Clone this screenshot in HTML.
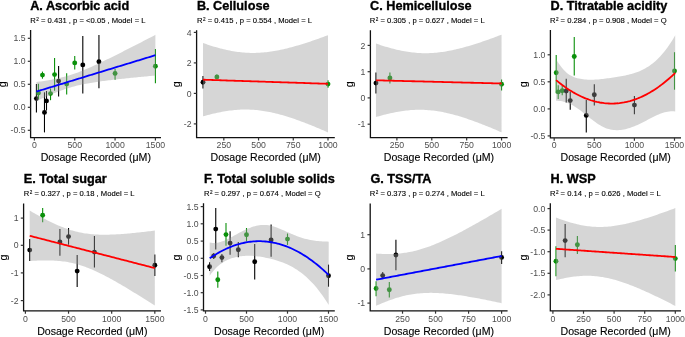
<!DOCTYPE html>
<html><head><meta charset="utf-8"><style>
html,body{margin:0;padding:0;background:#fff;}
body{width:685px;height:337px;overflow:hidden;}
svg{display:block;will-change:transform;}
text{font-family:"Liberation Sans", sans-serif;}
.tt{font-size:12.7px;font-weight:bold;fill:#000;stroke:#000;stroke-width:0.35px;}
.st{font-size:7.65px;fill:#000;stroke:#000;stroke-width:0.12px;}
.tk{font-size:8.7px;fill:#4d4d4d;}
.xl{font-size:10.6px;fill:#000;stroke:#000;stroke-width:0.12px;}
</style></head><body>
<svg width="685" height="337" viewBox="0 0 685 337">
<rect width="685" height="337" fill="#fff"/>
<line x1="36.42" y1="84.1" x2="36.42" y2="112.4" stroke="#000000" stroke-width="1.1"/>
<circle cx="36.42" cy="98.6" r="2.45" fill="#000000"/>
<line x1="38.43" y1="83.8" x2="38.43" y2="99" stroke="#0a900a" stroke-width="1.1"/>
<circle cx="38.43" cy="93.1" r="2.45" fill="#0a900a"/>
<line x1="42.47" y1="71.6" x2="42.47" y2="78.7" stroke="#0a900a" stroke-width="1.1"/>
<circle cx="42.47" cy="75.1" r="2.45" fill="#0a900a"/>
<line x1="44.48" y1="92.3" x2="44.48" y2="132.4" stroke="#000000" stroke-width="1.1"/>
<circle cx="44.48" cy="112.4" r="2.45" fill="#000000"/>
<line x1="46.5" y1="91" x2="46.5" y2="110.5" stroke="#000000" stroke-width="1.1"/>
<circle cx="46.5" cy="100.9" r="2.45" fill="#000000"/>
<line x1="50.53" y1="88.5" x2="50.53" y2="100.2" stroke="#0a900a" stroke-width="1.1"/>
<circle cx="50.53" cy="93.6" r="2.45" fill="#0a900a"/>
<line x1="54.57" y1="57.9" x2="54.57" y2="90.8" stroke="#0a900a" stroke-width="1.1"/>
<circle cx="54.57" cy="74.6" r="2.45" fill="#0a900a"/>
<line x1="58.6" y1="66.1" x2="58.6" y2="96.6" stroke="#000000" stroke-width="1.1"/>
<circle cx="58.6" cy="81.1" r="2.45" fill="#000000"/>
<line x1="66.67" y1="73.3" x2="66.67" y2="94.6" stroke="#0a900a" stroke-width="1.1"/>
<circle cx="66.67" cy="84.1" r="2.45" fill="#0a900a"/>
<line x1="74.73" y1="55.9" x2="74.73" y2="69.6" stroke="#0a900a" stroke-width="1.1"/>
<circle cx="74.73" cy="62.9" r="2.45" fill="#0a900a"/>
<line x1="82.8" y1="36" x2="82.8" y2="93.6" stroke="#000000" stroke-width="1.1"/>
<circle cx="82.8" cy="64.9" r="2.45" fill="#000000"/>
<line x1="98.94" y1="35.1" x2="98.94" y2="88.3" stroke="#000000" stroke-width="1.1"/>
<circle cx="98.94" cy="61.7" r="2.45" fill="#000000"/>
<line x1="115.07" y1="69.1" x2="115.07" y2="79.8" stroke="#0a900a" stroke-width="1.1"/>
<circle cx="115.07" cy="73.4" r="2.45" fill="#0a900a"/>
<line x1="155.41" y1="49" x2="155.41" y2="83.2" stroke="#0a900a" stroke-width="1.1"/>
<circle cx="155.41" cy="66.3" r="2.45" fill="#0a900a"/>
<path d="M36.42,82.02 L37.92,81.81 L39.43,81.6 L40.94,81.38 L42.44,81.16 L43.95,80.93 L45.45,80.69 L46.96,80.44 L48.47,80.19 L49.97,79.92 L51.48,79.65 L52.98,79.36 L54.49,79.07 L56,78.76 L57.5,78.43 L59.01,78.09 L60.52,77.74 L62.02,77.37 L63.53,76.98 L65.03,76.58 L66.54,76.16 L68.05,75.72 L69.55,75.26 L71.06,74.78 L72.57,74.29 L74.07,73.77 L75.58,73.24 L77.08,72.7 L78.59,72.13 L80.1,71.55 L81.6,70.96 L83.11,70.35 L84.61,69.73 L86.12,69.1 L87.63,68.46 L89.13,67.8 L90.64,67.14 L92.15,66.47 L93.65,65.78 L95.16,65.1 L96.66,64.4 L98.17,63.7 L99.68,62.99 L101.18,62.27 L102.69,61.56 L104.19,60.83 L105.7,60.1 L107.21,59.37 L108.71,58.64 L110.22,57.9 L111.73,57.15 L113.23,56.41 L114.74,55.66 L116.24,54.91 L117.75,54.16 L119.26,53.4 L120.76,52.64 L122.27,51.89 L123.78,51.12 L125.28,50.36 L126.79,49.6 L128.29,48.83 L129.8,48.06 L131.31,47.3 L132.81,46.53 L134.32,45.75 L135.82,44.98 L137.33,44.21 L138.84,43.44 L140.34,42.66 L141.85,41.89 L143.36,41.11 L144.86,40.33 L146.37,39.55 L147.87,38.77 L149.38,37.99 L150.89,37.21 L152.39,36.43 L153.9,35.65 L155.41,34.87 L155.41,75.53 L153.9,75.67 L152.39,75.81 L150.89,75.95 L149.38,76.09 L147.87,76.23 L146.37,76.38 L144.86,76.52 L143.36,76.66 L141.85,76.81 L140.34,76.95 L138.84,77.1 L137.33,77.25 L135.82,77.4 L134.32,77.55 L132.81,77.7 L131.31,77.85 L129.8,78 L128.29,78.16 L126.79,78.31 L125.28,78.47 L123.78,78.63 L122.27,78.79 L120.76,78.95 L119.26,79.11 L117.75,79.28 L116.24,79.45 L114.74,79.62 L113.23,79.79 L111.73,79.97 L110.22,80.15 L108.71,80.33 L107.21,80.52 L105.7,80.71 L104.19,80.9 L102.69,81.1 L101.18,81.3 L99.68,81.51 L98.17,81.72 L96.66,81.94 L95.16,82.17 L93.65,82.4 L92.15,82.64 L90.64,82.89 L89.13,83.14 L87.63,83.41 L86.12,83.69 L84.61,83.98 L83.11,84.28 L81.6,84.59 L80.1,84.92 L78.59,85.27 L77.08,85.62 L75.58,86 L74.07,86.39 L72.57,86.8 L71.06,87.22 L69.55,87.67 L68.05,88.13 L66.54,88.61 L65.03,89.11 L63.53,89.63 L62.02,90.17 L60.52,90.72 L59.01,91.28 L57.5,91.87 L56,92.46 L54.49,93.08 L52.98,93.7 L51.48,94.33 L49.97,94.98 L48.47,95.64 L46.96,96.3 L45.45,96.98 L43.95,97.66 L42.44,98.35 L40.94,99.05 L39.43,99.76 L37.92,100.47 L36.42,101.18 Z" fill="#999999" fill-opacity="0.4"/>
<path d="M36.42,91.6 L37.92,91.14 L39.43,90.68 L40.94,90.22 L42.44,89.76 L43.95,89.3 L45.45,88.84 L46.96,88.37 L48.47,87.91 L49.97,87.45 L51.48,86.99 L52.98,86.53 L54.49,86.07 L56,85.61 L57.5,85.15 L59.01,84.69 L60.52,84.23 L62.02,83.77 L63.53,83.31 L65.03,82.85 L66.54,82.38 L68.05,81.92 L69.55,81.46 L71.06,81 L72.57,80.54 L74.07,80.08 L75.58,79.62 L77.08,79.16 L78.59,78.7 L80.1,78.24 L81.6,77.78 L83.11,77.32 L84.61,76.86 L86.12,76.39 L87.63,75.93 L89.13,75.47 L90.64,75.01 L92.15,74.55 L93.65,74.09 L95.16,73.63 L96.66,73.17 L98.17,72.71 L99.68,72.25 L101.18,71.79 L102.69,71.33 L104.19,70.87 L105.7,70.41 L107.21,69.94 L108.71,69.48 L110.22,69.02 L111.73,68.56 L113.23,68.1 L114.74,67.64 L116.24,67.18 L117.75,66.72 L119.26,66.26 L120.76,65.8 L122.27,65.34 L123.78,64.88 L125.28,64.42 L126.79,63.95 L128.29,63.49 L129.8,63.03 L131.31,62.57 L132.81,62.11 L134.32,61.65 L135.82,61.19 L137.33,60.73 L138.84,60.27 L140.34,59.81 L141.85,59.35 L143.36,58.89 L144.86,58.43 L146.37,57.96 L147.87,57.5 L149.38,57.04 L150.89,56.58 L152.39,56.12 L153.9,55.66 L155.41,55.2" fill="none" stroke="#0000ff" stroke-width="1.8" stroke-linecap="butt"/>
<path d="M30.6,30.1 L30.6,137.7 L161,137.7" fill="none" stroke="#111" stroke-width="1.3" stroke-linecap="butt" stroke-linejoin="miter"/>
<line x1="27.8" y1="38.3" x2="30.6" y2="38.3" stroke="#333" stroke-width="1.2"/>
<text x="25.6" y="41.45" text-anchor="end" class="tk">1.5</text>
<line x1="27.8" y1="61.3" x2="30.6" y2="61.3" stroke="#333" stroke-width="1.2"/>
<text x="25.6" y="64.45" text-anchor="end" class="tk">1.0</text>
<line x1="27.8" y1="84.3" x2="30.6" y2="84.3" stroke="#333" stroke-width="1.2"/>
<text x="25.6" y="87.45" text-anchor="end" class="tk">0.5</text>
<line x1="27.8" y1="107.3" x2="30.6" y2="107.3" stroke="#333" stroke-width="1.2"/>
<text x="25.6" y="110.45" text-anchor="end" class="tk">0.0</text>
<line x1="27.8" y1="130.3" x2="30.6" y2="130.3" stroke="#333" stroke-width="1.2"/>
<text x="25.6" y="133.45" text-anchor="end" class="tk">-0.5</text>
<line x1="34.4" y1="137.7" x2="34.4" y2="140.5" stroke="#333" stroke-width="1.2"/>
<text x="34.4" y="148.2" text-anchor="middle" class="tk">0</text>
<line x1="74.73" y1="137.7" x2="74.73" y2="140.5" stroke="#333" stroke-width="1.2"/>
<text x="74.73" y="148.2" text-anchor="middle" class="tk">500</text>
<line x1="115.07" y1="137.7" x2="115.07" y2="140.5" stroke="#333" stroke-width="1.2"/>
<text x="115.07" y="148.2" text-anchor="middle" class="tk">1000</text>
<line x1="155.41" y1="137.7" x2="155.41" y2="140.5" stroke="#333" stroke-width="1.2"/>
<text x="155.41" y="148.2" text-anchor="middle" class="tk">1500</text>
<text x="95.8" y="161" text-anchor="middle" class="xl">Dosage Recorded (μM)</text>
<text transform="translate(6.4,84.3) rotate(-90)" text-anchor="middle" class="xl">g</text>
<text x="30.2" y="9.8" class="tt">A. Ascorbic acid</text>
<text x="30.3" y="23.3" class="st">R<tspan font-size="4.6" dx="0.5" dy="-2.3">2</tspan><tspan dy="2.3"> = 0.431 , p = <0.05 , Model = L</tspan></text>
<line x1="202.99" y1="76" x2="202.99" y2="88.4" stroke="#000000" stroke-width="1.1"/>
<circle cx="202.99" cy="82.2" r="2.45" fill="#000000"/>
<line x1="216.88" y1="74.5" x2="216.88" y2="78.8" stroke="#0a900a" stroke-width="1.1"/>
<circle cx="216.88" cy="77" r="2.45" fill="#0a900a"/>
<line x1="328" y1="80.3" x2="328" y2="87.8" stroke="#0a900a" stroke-width="1.1"/>
<circle cx="328" cy="84.1" r="2.45" fill="#0a900a"/>
<path d="M202.99,43.03 L204.57,43.58 L206.15,44.12 L207.74,44.64 L209.32,45.16 L210.9,45.67 L212.48,46.16 L214.07,46.63 L215.65,47.1 L217.23,47.55 L218.81,47.99 L220.4,48.41 L221.98,48.81 L223.56,49.2 L225.14,49.57 L226.73,49.93 L228.31,50.27 L229.89,50.59 L231.47,50.89 L233.06,51.17 L234.64,51.43 L236.22,51.67 L237.8,51.89 L239.39,52.09 L240.97,52.27 L242.55,52.42 L244.13,52.56 L245.71,52.67 L247.3,52.76 L248.88,52.83 L250.46,52.88 L252.04,52.9 L253.63,52.91 L255.21,52.89 L256.79,52.84 L258.37,52.78 L259.96,52.7 L261.54,52.59 L263.12,52.46 L264.7,52.32 L266.29,52.15 L267.87,51.97 L269.45,51.76 L271.03,51.54 L272.62,51.29 L274.2,51.03 L275.78,50.76 L277.36,50.47 L278.95,50.16 L280.53,49.83 L282.11,49.49 L283.69,49.14 L285.28,48.77 L286.86,48.39 L288.44,48 L290.02,47.59 L291.6,47.17 L293.19,46.74 L294.77,46.3 L296.35,45.85 L297.93,45.39 L299.52,44.92 L301.1,44.44 L302.68,43.95 L304.26,43.46 L305.85,42.95 L307.43,42.44 L309.01,41.92 L310.59,41.39 L312.18,40.85 L313.76,40.31 L315.34,39.76 L316.92,39.21 L318.51,38.65 L320.09,38.08 L321.67,37.51 L323.25,36.94 L324.84,36.36 L326.42,35.77 L328,35.18 L328,132.42 L326.42,131.73 L324.84,131.04 L323.25,130.35 L321.67,129.67 L320.09,129 L318.51,128.33 L316.92,127.66 L315.34,127.01 L313.76,126.35 L312.18,125.71 L310.59,125.07 L309.01,124.44 L307.43,123.81 L305.85,123.2 L304.26,122.59 L302.68,121.99 L301.1,121.39 L299.52,120.81 L297.93,120.24 L296.35,119.67 L294.77,119.12 L293.19,118.57 L291.6,118.04 L290.02,117.52 L288.44,117.01 L286.86,116.51 L285.28,116.03 L283.69,115.55 L282.11,115.1 L280.53,114.65 L278.95,114.23 L277.36,113.81 L275.78,113.42 L274.2,113.04 L272.62,112.67 L271.03,112.33 L269.45,112 L267.87,111.69 L266.29,111.4 L264.7,111.13 L263.12,110.88 L261.54,110.65 L259.96,110.44 L258.37,110.25 L256.79,110.08 L255.21,109.94 L253.63,109.82 L252.04,109.71 L250.46,109.64 L248.88,109.58 L247.3,109.54 L245.71,109.53 L244.13,109.54 L242.55,109.57 L240.97,109.62 L239.39,109.7 L237.8,109.79 L236.22,109.91 L234.64,110.05 L233.06,110.21 L231.47,110.38 L229.89,110.58 L228.31,110.79 L226.73,111.03 L225.14,111.28 L223.56,111.55 L221.98,111.83 L220.4,112.13 L218.81,112.45 L217.23,112.78 L215.65,113.13 L214.07,113.49 L212.48,113.87 L210.9,114.25 L209.32,114.65 L207.74,115.07 L206.15,115.49 L204.57,115.93 L202.99,116.37 Z" fill="#999999" fill-opacity="0.4"/>
<path d="M202.99,79.7 L204.57,79.75 L206.15,79.8 L207.74,79.86 L209.32,79.91 L210.9,79.96 L212.48,80.01 L214.07,80.06 L215.65,80.12 L217.23,80.17 L218.81,80.22 L220.4,80.27 L221.98,80.32 L223.56,80.37 L225.14,80.43 L226.73,80.48 L228.31,80.53 L229.89,80.58 L231.47,80.63 L233.06,80.69 L234.64,80.74 L236.22,80.79 L237.8,80.84 L239.39,80.89 L240.97,80.95 L242.55,81 L244.13,81.05 L245.71,81.1 L247.3,81.15 L248.88,81.21 L250.46,81.26 L252.04,81.31 L253.63,81.36 L255.21,81.41 L256.79,81.46 L258.37,81.52 L259.96,81.57 L261.54,81.62 L263.12,81.67 L264.7,81.72 L266.29,81.78 L267.87,81.83 L269.45,81.88 L271.03,81.93 L272.62,81.98 L274.2,82.04 L275.78,82.09 L277.36,82.14 L278.95,82.19 L280.53,82.24 L282.11,82.29 L283.69,82.35 L285.28,82.4 L286.86,82.45 L288.44,82.5 L290.02,82.55 L291.6,82.61 L293.19,82.66 L294.77,82.71 L296.35,82.76 L297.93,82.81 L299.52,82.87 L301.1,82.92 L302.68,82.97 L304.26,83.02 L305.85,83.07 L307.43,83.13 L309.01,83.18 L310.59,83.23 L312.18,83.28 L313.76,83.33 L315.34,83.38 L316.92,83.44 L318.51,83.49 L320.09,83.54 L321.67,83.59 L323.25,83.64 L324.84,83.7 L326.42,83.75 L328,83.8" fill="none" stroke="#ff0000" stroke-width="1.8" stroke-linecap="butt"/>
<path d="M196.6,30.3 L196.6,137.7 L334.8,137.7" fill="none" stroke="#111" stroke-width="1.3" stroke-linecap="butt" stroke-linejoin="miter"/>
<line x1="193.8" y1="32.4" x2="196.6" y2="32.4" stroke="#333" stroke-width="1.2"/>
<text x="191.6" y="35.55" text-anchor="end" class="tk">4</text>
<line x1="193.8" y1="62.9" x2="196.6" y2="62.9" stroke="#333" stroke-width="1.2"/>
<text x="191.6" y="66.05" text-anchor="end" class="tk">2</text>
<line x1="193.8" y1="93.4" x2="196.6" y2="93.4" stroke="#333" stroke-width="1.2"/>
<text x="191.6" y="96.55" text-anchor="end" class="tk">0</text>
<line x1="193.8" y1="123.9" x2="196.6" y2="123.9" stroke="#333" stroke-width="1.2"/>
<text x="191.6" y="127.05" text-anchor="end" class="tk">-2</text>
<line x1="223.82" y1="137.7" x2="223.82" y2="140.5" stroke="#333" stroke-width="1.2"/>
<text x="223.82" y="148.2" text-anchor="middle" class="tk">250</text>
<line x1="258.55" y1="137.7" x2="258.55" y2="140.5" stroke="#333" stroke-width="1.2"/>
<text x="258.55" y="148.2" text-anchor="middle" class="tk">500</text>
<line x1="293.27" y1="137.7" x2="293.27" y2="140.5" stroke="#333" stroke-width="1.2"/>
<text x="293.27" y="148.2" text-anchor="middle" class="tk">750</text>
<line x1="328" y1="137.7" x2="328" y2="140.5" stroke="#333" stroke-width="1.2"/>
<text x="328" y="148.2" text-anchor="middle" class="tk">1000</text>
<text x="265.7" y="161" text-anchor="middle" class="xl">Dosage Recorded (μM)</text>
<text transform="translate(180.1,84.4) rotate(-90)" text-anchor="middle" class="xl">g</text>
<text x="196.9" y="9.8" class="tt">B. Cellulose</text>
<text x="197" y="23.3" class="st">R<tspan font-size="4.6" dx="0.5" dy="-2.3">2</tspan><tspan dy="2.3"> = 0.415 , p = 0.554 , Model = L</tspan></text>
<line x1="375.96" y1="72.5" x2="375.96" y2="93.4" stroke="#000000" stroke-width="1.1"/>
<circle cx="375.96" cy="83.1" r="2.45" fill="#000000"/>
<line x1="389.91" y1="72.5" x2="389.91" y2="83.4" stroke="#0a900a" stroke-width="1.1"/>
<circle cx="389.91" cy="78" r="2.45" fill="#0a900a"/>
<line x1="501.56" y1="79.5" x2="501.56" y2="90.5" stroke="#0a900a" stroke-width="1.1"/>
<circle cx="501.56" cy="84.2" r="2.45" fill="#0a900a"/>
<path d="M375.96,43.54 L377.55,44.08 L379.14,44.62 L380.73,45.14 L382.32,45.65 L383.91,46.15 L385.5,46.64 L387.09,47.11 L388.68,47.57 L390.27,48.01 L391.86,48.44 L393.45,48.86 L395.04,49.26 L396.63,49.64 L398.21,50.01 L399.8,50.36 L401.39,50.69 L402.98,51 L404.57,51.29 L406.16,51.56 L407.75,51.82 L409.34,52.05 L410.93,52.26 L412.52,52.45 L414.11,52.62 L415.7,52.77 L417.29,52.9 L418.88,53 L420.47,53.08 L422.06,53.14 L423.65,53.17 L425.24,53.18 L426.83,53.18 L428.42,53.14 L430.01,53.09 L431.6,53.01 L433.19,52.91 L434.78,52.8 L436.37,52.65 L437.96,52.49 L439.55,52.31 L441.14,52.11 L442.73,51.89 L444.32,51.65 L445.91,51.39 L447.5,51.12 L449.09,50.83 L450.68,50.52 L452.27,50.19 L453.86,49.85 L455.45,49.49 L457.04,49.12 L458.63,48.74 L460.22,48.34 L461.81,47.93 L463.4,47.51 L464.99,47.07 L466.58,46.62 L468.17,46.16 L469.76,45.7 L471.35,45.22 L472.94,44.73 L474.53,44.23 L476.12,43.72 L477.71,43.21 L479.3,42.68 L480.89,42.15 L482.48,41.61 L484.07,41.07 L485.66,40.51 L487.25,39.95 L488.84,39.39 L490.43,38.82 L492.02,38.24 L493.61,37.65 L495.2,37.06 L496.79,36.47 L498.38,35.87 L499.97,35.27 L501.56,34.66 L501.56,132.34 L499.97,131.65 L498.38,130.97 L496.79,130.29 L495.2,129.61 L493.61,128.94 L492.02,128.28 L490.43,127.62 L488.84,126.96 L487.25,126.32 L485.66,125.68 L484.07,125.04 L482.48,124.41 L480.89,123.79 L479.3,123.18 L477.71,122.58 L476.12,121.98 L474.53,121.39 L472.94,120.81 L471.35,120.24 L469.76,119.68 L468.17,119.13 L466.58,118.6 L464.99,118.07 L463.4,117.55 L461.81,117.05 L460.22,116.55 L458.63,116.07 L457.04,115.61 L455.45,115.16 L453.86,114.72 L452.27,114.3 L450.68,113.89 L449.09,113.5 L447.5,113.13 L445.91,112.77 L444.32,112.43 L442.73,112.11 L441.14,111.81 L439.55,111.53 L437.96,111.27 L436.37,111.02 L434.78,110.8 L433.19,110.6 L431.6,110.42 L430.01,110.27 L428.42,110.13 L426.83,110.02 L425.24,109.93 L423.65,109.86 L422.06,109.81 L420.47,109.79 L418.88,109.79 L417.29,109.81 L415.7,109.86 L414.11,109.92 L412.52,110.01 L410.93,110.12 L409.34,110.25 L407.75,110.4 L406.16,110.57 L404.57,110.77 L402.98,110.98 L401.39,111.21 L399.8,111.46 L398.21,111.73 L396.63,112.01 L395.04,112.31 L393.45,112.63 L391.86,112.97 L390.27,113.32 L388.68,113.68 L387.09,114.06 L385.5,114.45 L383.91,114.86 L382.32,115.27 L380.73,115.7 L379.14,116.15 L377.55,116.6 L375.96,117.06 Z" fill="#999999" fill-opacity="0.4"/>
<path d="M375.96,80.3 L377.55,80.34 L379.14,80.38 L380.73,80.42 L382.32,80.46 L383.91,80.5 L385.5,80.54 L387.09,80.58 L388.68,80.62 L390.27,80.66 L391.86,80.71 L393.45,80.75 L395.04,80.79 L396.63,80.83 L398.21,80.87 L399.8,80.91 L401.39,80.95 L402.98,80.99 L404.57,81.03 L406.16,81.07 L407.75,81.11 L409.34,81.15 L410.93,81.19 L412.52,81.23 L414.11,81.27 L415.7,81.31 L417.29,81.35 L418.88,81.39 L420.47,81.43 L422.06,81.47 L423.65,81.52 L425.24,81.56 L426.83,81.6 L428.42,81.64 L430.01,81.68 L431.6,81.72 L433.19,81.76 L434.78,81.8 L436.37,81.84 L437.96,81.88 L439.55,81.92 L441.14,81.96 L442.73,82 L444.32,82.04 L445.91,82.08 L447.5,82.12 L449.09,82.16 L450.68,82.2 L452.27,82.24 L453.86,82.28 L455.45,82.33 L457.04,82.37 L458.63,82.41 L460.22,82.45 L461.81,82.49 L463.4,82.53 L464.99,82.57 L466.58,82.61 L468.17,82.65 L469.76,82.69 L471.35,82.73 L472.94,82.77 L474.53,82.81 L476.12,82.85 L477.71,82.89 L479.3,82.93 L480.89,82.97 L482.48,83.01 L484.07,83.05 L485.66,83.09 L487.25,83.14 L488.84,83.18 L490.43,83.22 L492.02,83.26 L493.61,83.3 L495.2,83.34 L496.79,83.38 L498.38,83.42 L499.97,83.46 L501.56,83.5" fill="none" stroke="#ff0000" stroke-width="1.8" stroke-linecap="butt"/>
<path d="M370.4,30.3 L370.4,137.7 L507.6,137.7" fill="none" stroke="#111" stroke-width="1.3" stroke-linecap="butt" stroke-linejoin="miter"/>
<line x1="367.6" y1="45.4" x2="370.4" y2="45.4" stroke="#333" stroke-width="1.2"/>
<text x="365.4" y="48.55" text-anchor="end" class="tk">2</text>
<line x1="367.6" y1="71.7" x2="370.4" y2="71.7" stroke="#333" stroke-width="1.2"/>
<text x="365.4" y="74.85" text-anchor="end" class="tk">1</text>
<line x1="367.6" y1="97.9" x2="370.4" y2="97.9" stroke="#333" stroke-width="1.2"/>
<text x="365.4" y="101.05" text-anchor="end" class="tk">0</text>
<line x1="367.6" y1="124.2" x2="370.4" y2="124.2" stroke="#333" stroke-width="1.2"/>
<text x="365.4" y="127.35" text-anchor="end" class="tk">-1</text>
<line x1="396.89" y1="137.7" x2="396.89" y2="140.5" stroke="#333" stroke-width="1.2"/>
<text x="396.89" y="148.2" text-anchor="middle" class="tk">250</text>
<line x1="431.78" y1="137.7" x2="431.78" y2="140.5" stroke="#333" stroke-width="1.2"/>
<text x="431.78" y="148.2" text-anchor="middle" class="tk">500</text>
<line x1="466.67" y1="137.7" x2="466.67" y2="140.5" stroke="#333" stroke-width="1.2"/>
<text x="466.67" y="148.2" text-anchor="middle" class="tk">750</text>
<line x1="501.56" y1="137.7" x2="501.56" y2="140.5" stroke="#333" stroke-width="1.2"/>
<text x="501.56" y="148.2" text-anchor="middle" class="tk">1000</text>
<text x="439" y="161" text-anchor="middle" class="xl">Dosage Recorded (μM)</text>
<text transform="translate(352.6,84.4) rotate(-90)" text-anchor="middle" class="xl">g</text>
<text x="370" y="9.8" class="tt">C. Hemicellulose</text>
<text x="369.7" y="23.3" class="st">R<tspan font-size="4.6" dx="0.5" dy="-2.3">2</tspan><tspan dy="2.3"> = 0.305 , p = 0.627 , Model = L</tspan></text>
<line x1="556.21" y1="54.9" x2="556.21" y2="93.2" stroke="#0a900a" stroke-width="1.1"/>
<circle cx="556.21" cy="72.8" r="2.45" fill="#0a900a"/>
<line x1="558.21" y1="85.3" x2="558.21" y2="99.1" stroke="#0a900a" stroke-width="1.1"/>
<circle cx="558.21" cy="91.9" r="2.45" fill="#0a900a"/>
<line x1="562.22" y1="86" x2="562.22" y2="95.3" stroke="#0a900a" stroke-width="1.1"/>
<circle cx="562.22" cy="90.7" r="2.45" fill="#0a900a"/>
<line x1="566.23" y1="78.8" x2="566.23" y2="102.6" stroke="#000000" stroke-width="1.1"/>
<circle cx="566.23" cy="91" r="2.45" fill="#000000"/>
<line x1="570.24" y1="91.6" x2="570.24" y2="109.8" stroke="#000000" stroke-width="1.1"/>
<circle cx="570.24" cy="100.6" r="2.45" fill="#000000"/>
<line x1="574.25" y1="37.1" x2="574.25" y2="75.5" stroke="#0a900a" stroke-width="1.1"/>
<circle cx="574.25" cy="56.5" r="2.45" fill="#0a900a"/>
<line x1="586.28" y1="100" x2="586.28" y2="132.6" stroke="#000000" stroke-width="1.1"/>
<circle cx="586.28" cy="115.4" r="2.45" fill="#000000"/>
<line x1="594.3" y1="84.2" x2="594.3" y2="105.5" stroke="#000000" stroke-width="1.1"/>
<circle cx="594.3" cy="94.8" r="2.45" fill="#000000"/>
<line x1="634.4" y1="95.9" x2="634.4" y2="114.2" stroke="#000000" stroke-width="1.1"/>
<circle cx="634.4" cy="105.1" r="2.45" fill="#000000"/>
<line x1="674.5" y1="52.2" x2="674.5" y2="89.7" stroke="#0a900a" stroke-width="1.1"/>
<circle cx="674.5" cy="71" r="2.45" fill="#0a900a"/>
<path d="M556.1,59.34 L557.61,61.72 L559.12,63.95 L560.62,66.02 L562.13,67.92 L563.64,69.67 L565.15,71.25 L566.65,72.66 L568.16,73.89 L569.67,74.95 L571.18,75.84 L572.68,76.59 L574.19,77.21 L575.7,77.72 L577.21,78.14 L578.71,78.48 L580.22,78.78 L581.73,79.03 L583.24,79.24 L584.74,79.4 L586.25,79.53 L587.76,79.63 L589.27,79.68 L590.77,79.71 L592.28,79.7 L593.79,79.67 L595.3,79.6 L596.81,79.52 L598.31,79.41 L599.82,79.27 L601.33,79.12 L602.84,78.96 L604.34,78.77 L605.85,78.58 L607.36,78.37 L608.87,78.15 L610.37,77.92 L611.88,77.69 L613.39,77.46 L614.9,77.22 L616.4,76.99 L617.91,76.75 L619.42,76.5 L620.93,76.25 L622.43,75.98 L623.94,75.7 L625.45,75.41 L626.96,75.09 L628.46,74.74 L629.97,74.37 L631.48,73.97 L632.99,73.54 L634.49,73.07 L636,72.56 L637.51,72.01 L639.02,71.41 L640.53,70.76 L642.03,70.06 L643.54,69.31 L645.05,68.5 L646.56,67.62 L648.06,66.69 L649.57,65.68 L651.08,64.61 L652.59,63.46 L654.09,62.23 L655.6,60.93 L657.11,59.54 L658.62,58.07 L660.12,56.51 L661.63,54.86 L663.14,53.11 L664.65,51.26 L666.15,49.31 L667.66,47.26 L669.17,45.1 L670.68,42.83 L672.18,40.45 L673.69,37.95 L675.2,35.33 L675.2,111.45 L673.69,111.3 L672.18,111.26 L670.68,111.31 L669.17,111.45 L667.66,111.68 L666.15,111.98 L664.65,112.35 L663.14,112.79 L661.63,113.29 L660.12,113.85 L658.62,114.45 L657.11,115.1 L655.6,115.79 L654.09,116.51 L652.59,117.25 L651.08,118.02 L649.57,118.8 L648.06,119.59 L646.56,120.38 L645.05,121.18 L643.54,121.96 L642.03,122.73 L640.53,123.48 L639.02,124.21 L637.51,124.91 L636,125.58 L634.49,126.21 L632.99,126.81 L631.48,127.37 L629.97,127.88 L628.46,128.35 L626.96,128.77 L625.45,129.14 L623.94,129.46 L622.43,129.72 L620.93,129.93 L619.42,130.07 L617.91,130.15 L616.4,130.16 L614.9,130.1 L613.39,129.97 L611.88,129.76 L610.37,129.48 L608.87,129.11 L607.36,128.66 L605.85,128.13 L604.34,127.51 L602.84,126.79 L601.33,125.99 L599.82,125.12 L598.31,124.17 L596.81,123.16 L595.3,122.1 L593.79,121 L592.28,119.85 L590.77,118.68 L589.27,117.49 L587.76,116.28 L586.25,115.08 L584.74,113.87 L583.24,112.68 L581.73,111.5 L580.22,110.36 L578.71,109.25 L577.21,108.19 L575.7,107.18 L574.19,106.22 L572.68,105.34 L571.18,104.52 L569.67,103.79 L568.16,103.14 L566.65,102.57 L565.15,102.09 L563.64,101.68 L562.13,101.36 L560.62,101.11 L559.12,100.95 L557.61,100.86 L556.1,100.85 Z" fill="#999999" fill-opacity="0.4"/>
<path d="M556.1,80.12 L557.61,81.38 L559.12,82.6 L560.62,83.78 L562.13,84.93 L563.64,86.05 L565.15,87.13 L566.65,88.17 L568.16,89.19 L569.67,90.17 L571.18,91.11 L572.68,92.02 L574.19,92.89 L575.7,93.73 L577.21,94.54 L578.71,95.31 L580.22,96.05 L581.73,96.75 L583.24,97.42 L584.74,98.05 L586.25,98.65 L587.76,99.21 L589.27,99.74 L590.77,100.24 L592.28,100.7 L593.79,101.13 L595.3,101.52 L596.81,101.88 L598.31,102.2 L599.82,102.49 L601.33,102.74 L602.84,102.96 L604.34,103.15 L605.85,103.3 L607.36,103.42 L608.87,103.5 L610.37,103.55 L611.88,103.56 L613.39,103.54 L614.9,103.48 L616.4,103.39 L617.91,103.27 L619.42,103.11 L620.93,102.91 L622.43,102.68 L623.94,102.42 L625.45,102.12 L626.96,101.79 L628.46,101.43 L629.97,101.03 L631.48,100.59 L632.99,100.12 L634.49,99.62 L636,99.08 L637.51,98.51 L639.02,97.9 L640.53,97.26 L642.03,96.58 L643.54,95.87 L645.05,95.13 L646.56,94.35 L648.06,93.53 L649.57,92.68 L651.08,91.8 L652.59,90.88 L654.09,89.93 L655.6,88.94 L657.11,87.92 L658.62,86.87 L660.12,85.78 L661.63,84.65 L663.14,83.5 L664.65,82.3 L666.15,81.07 L667.66,79.81 L669.17,78.52 L670.68,77.19 L672.18,75.82 L673.69,74.42 L675.2,72.99" fill="none" stroke="#ff0000" stroke-width="1.8" stroke-linecap="butt"/>
<path d="M550.4,30.1 L550.4,137.9 L681,137.9" fill="none" stroke="#111" stroke-width="1.3" stroke-linecap="butt" stroke-linejoin="miter"/>
<line x1="547.6" y1="54.8" x2="550.4" y2="54.8" stroke="#333" stroke-width="1.2"/>
<text x="545.4" y="57.95" text-anchor="end" class="tk">1.0</text>
<line x1="547.6" y1="81.8" x2="550.4" y2="81.8" stroke="#333" stroke-width="1.2"/>
<text x="545.4" y="84.95" text-anchor="end" class="tk">0.5</text>
<line x1="547.6" y1="108.9" x2="550.4" y2="108.9" stroke="#333" stroke-width="1.2"/>
<text x="545.4" y="112.05" text-anchor="end" class="tk">0.0</text>
<line x1="547.6" y1="135.9" x2="550.4" y2="135.9" stroke="#333" stroke-width="1.2"/>
<text x="545.4" y="139.05" text-anchor="end" class="tk">-0.5</text>
<line x1="554.2" y1="137.9" x2="554.2" y2="140.7" stroke="#333" stroke-width="1.2"/>
<text x="554.2" y="148.2" text-anchor="middle" class="tk">0</text>
<line x1="594.3" y1="137.9" x2="594.3" y2="140.7" stroke="#333" stroke-width="1.2"/>
<text x="594.3" y="148.2" text-anchor="middle" class="tk">500</text>
<line x1="634.4" y1="137.9" x2="634.4" y2="140.7" stroke="#333" stroke-width="1.2"/>
<text x="634.4" y="148.2" text-anchor="middle" class="tk">1000</text>
<line x1="674.5" y1="137.9" x2="674.5" y2="140.7" stroke="#333" stroke-width="1.2"/>
<text x="674.5" y="148.2" text-anchor="middle" class="tk">1500</text>
<text x="615.7" y="161" text-anchor="middle" class="xl">Dosage Recorded (μM)</text>
<text transform="translate(526.6,84.4) rotate(-90)" text-anchor="middle" class="xl">g</text>
<text x="550.5" y="9.8" class="tt">D. Titratable acidity</text>
<text x="549.9" y="23.3" class="st">R<tspan font-size="4.6" dx="0.5" dy="-2.3">2</tspan><tspan dy="2.3"> = 0.284 , p = 0.908 , Model = Q</tspan></text>
<line x1="29.71" y1="239.1" x2="29.71" y2="260.9" stroke="#000000" stroke-width="1.1"/>
<circle cx="29.71" cy="250.1" r="2.45" fill="#000000"/>
<line x1="42.66" y1="208.1" x2="42.66" y2="222.2" stroke="#0a900a" stroke-width="1.1"/>
<circle cx="42.66" cy="215.2" r="2.45" fill="#0a900a"/>
<line x1="59.91" y1="228.9" x2="59.91" y2="255.7" stroke="#000000" stroke-width="1.1"/>
<circle cx="59.91" cy="242" r="2.45" fill="#000000"/>
<line x1="68.54" y1="228" x2="68.54" y2="244.7" stroke="#000000" stroke-width="1.1"/>
<circle cx="68.54" cy="236.6" r="2.45" fill="#000000"/>
<line x1="77.17" y1="255" x2="77.17" y2="286.9" stroke="#000000" stroke-width="1.1"/>
<circle cx="77.17" cy="271.1" r="2.45" fill="#000000"/>
<line x1="94.42" y1="235.9" x2="94.42" y2="267.4" stroke="#000000" stroke-width="1.1"/>
<circle cx="94.42" cy="252.1" r="2.45" fill="#000000"/>
<line x1="154.82" y1="254.4" x2="154.82" y2="275.9" stroke="#000000" stroke-width="1.1"/>
<circle cx="154.82" cy="265.2" r="2.45" fill="#000000"/>
<path d="M29.71,210.54 L31.3,211.46 L32.88,212.38 L34.46,213.28 L36.05,214.18 L37.63,215.07 L39.22,215.94 L40.8,216.81 L42.38,217.67 L43.97,218.51 L45.55,219.34 L47.13,220.16 L48.72,220.96 L50.3,221.75 L51.88,222.52 L53.47,223.27 L55.05,224.01 L56.64,224.72 L58.22,225.42 L59.8,226.09 L61.39,226.74 L62.97,227.37 L64.55,227.98 L66.14,228.55 L67.72,229.11 L69.3,229.64 L70.89,230.14 L72.47,230.61 L74.06,231.05 L75.64,231.47 L77.22,231.86 L78.81,232.22 L80.39,232.55 L81.97,232.86 L83.56,233.14 L85.14,233.39 L86.72,233.62 L88.31,233.82 L89.89,234 L91.48,234.16 L93.06,234.29 L94.64,234.41 L96.23,234.5 L97.81,234.57 L99.39,234.63 L100.98,234.67 L102.56,234.7 L104.14,234.7 L105.73,234.7 L107.31,234.68 L108.9,234.65 L110.48,234.61 L112.06,234.55 L113.65,234.49 L115.23,234.41 L116.81,234.33 L118.4,234.24 L119.98,234.14 L121.56,234.03 L123.15,233.92 L124.73,233.79 L126.31,233.67 L127.9,233.53 L129.48,233.39 L131.07,233.25 L132.65,233.1 L134.23,232.94 L135.82,232.78 L137.4,232.62 L138.98,232.45 L140.57,232.28 L142.15,232.1 L143.73,231.93 L145.32,231.74 L146.9,231.56 L148.49,231.37 L150.07,231.18 L151.65,230.99 L153.24,230.79 L154.82,230.6 L154.82,305.6 L153.24,304.59 L151.65,303.58 L150.07,302.56 L148.49,301.56 L146.9,300.55 L145.32,299.55 L143.73,298.55 L142.15,297.55 L140.57,296.56 L138.98,295.57 L137.4,294.59 L135.82,293.61 L134.23,292.63 L132.65,291.66 L131.07,290.69 L129.48,289.72 L127.9,288.77 L126.31,287.82 L124.73,286.87 L123.15,285.93 L121.56,285 L119.98,284.07 L118.4,283.15 L116.81,282.24 L115.23,281.34 L113.65,280.45 L112.06,279.57 L110.48,278.7 L108.9,277.84 L107.31,276.99 L105.73,276.15 L104.14,275.33 L102.56,274.52 L100.98,273.73 L99.39,272.95 L97.81,272.19 L96.23,271.45 L94.64,270.72 L93.06,270.02 L91.48,269.33 L89.89,268.67 L88.31,268.03 L86.72,267.42 L85.14,266.83 L83.56,266.26 L81.97,265.73 L80.39,265.21 L78.81,264.73 L77.22,264.27 L75.64,263.84 L74.06,263.44 L72.47,263.07 L70.89,262.73 L69.3,262.41 L67.72,262.12 L66.14,261.85 L64.55,261.61 L62.97,261.4 L61.39,261.21 L59.8,261.05 L58.22,260.9 L56.64,260.78 L55.05,260.68 L53.47,260.59 L51.88,260.53 L50.3,260.48 L48.72,260.45 L47.13,260.44 L45.55,260.44 L43.97,260.45 L42.38,260.47 L40.8,260.51 L39.22,260.56 L37.63,260.62 L36.05,260.69 L34.46,260.77 L32.88,260.86 L31.3,260.96 L29.71,261.06 Z" fill="#999999" fill-opacity="0.4"/>
<path d="M29.71,235.8 L31.3,236.21 L32.88,236.62 L34.46,237.03 L36.05,237.44 L37.63,237.84 L39.22,238.25 L40.8,238.66 L42.38,239.07 L43.97,239.48 L45.55,239.89 L47.13,240.3 L48.72,240.71 L50.3,241.12 L51.88,241.52 L53.47,241.93 L55.05,242.34 L56.64,242.75 L58.22,243.16 L59.8,243.57 L61.39,243.98 L62.97,244.39 L64.55,244.79 L66.14,245.2 L67.72,245.61 L69.3,246.02 L70.89,246.43 L72.47,246.84 L74.06,247.25 L75.64,247.66 L77.22,248.07 L78.81,248.47 L80.39,248.88 L81.97,249.29 L83.56,249.7 L85.14,250.11 L86.72,250.52 L88.31,250.93 L89.89,251.34 L91.48,251.75 L93.06,252.15 L94.64,252.56 L96.23,252.97 L97.81,253.38 L99.39,253.79 L100.98,254.2 L102.56,254.61 L104.14,255.02 L105.73,255.43 L107.31,255.83 L108.9,256.24 L110.48,256.65 L112.06,257.06 L113.65,257.47 L115.23,257.88 L116.81,258.29 L118.4,258.7 L119.98,259.11 L121.56,259.51 L123.15,259.92 L124.73,260.33 L126.31,260.74 L127.9,261.15 L129.48,261.56 L131.07,261.97 L132.65,262.38 L134.23,262.78 L135.82,263.19 L137.4,263.6 L138.98,264.01 L140.57,264.42 L142.15,264.83 L143.73,265.24 L145.32,265.65 L146.9,266.06 L148.49,266.46 L150.07,266.87 L151.65,267.28 L153.24,267.69 L154.82,268.1" fill="none" stroke="#ff0000" stroke-width="1.8" stroke-linecap="butt"/>
<path d="M23.6,203.4 L23.6,310.9 L161,310.9" fill="none" stroke="#111" stroke-width="1.3" stroke-linecap="butt" stroke-linejoin="miter"/>
<line x1="20.8" y1="218.1" x2="23.6" y2="218.1" stroke="#333" stroke-width="1.2"/>
<text x="18.6" y="221.25" text-anchor="end" class="tk">1</text>
<line x1="20.8" y1="245.3" x2="23.6" y2="245.3" stroke="#333" stroke-width="1.2"/>
<text x="18.6" y="248.45" text-anchor="end" class="tk">0</text>
<line x1="20.8" y1="272.9" x2="23.6" y2="272.9" stroke="#333" stroke-width="1.2"/>
<text x="18.6" y="276.05" text-anchor="end" class="tk">-1</text>
<line x1="20.8" y1="300.6" x2="23.6" y2="300.6" stroke="#333" stroke-width="1.2"/>
<text x="18.6" y="303.75" text-anchor="end" class="tk">-2</text>
<line x1="25.4" y1="310.9" x2="25.4" y2="313.7" stroke="#333" stroke-width="1.2"/>
<text x="25.4" y="322" text-anchor="middle" class="tk">0</text>
<line x1="68.54" y1="310.9" x2="68.54" y2="313.7" stroke="#333" stroke-width="1.2"/>
<text x="68.54" y="322" text-anchor="middle" class="tk">500</text>
<line x1="111.68" y1="310.9" x2="111.68" y2="313.7" stroke="#333" stroke-width="1.2"/>
<text x="111.68" y="322" text-anchor="middle" class="tk">1000</text>
<line x1="154.82" y1="310.9" x2="154.82" y2="313.7" stroke="#333" stroke-width="1.2"/>
<text x="154.82" y="322" text-anchor="middle" class="tk">1500</text>
<text x="92.3" y="335" text-anchor="middle" class="xl">Dosage Recorded (μM)</text>
<text transform="translate(6.7,257.55) rotate(-90)" text-anchor="middle" class="xl">g</text>
<text x="23.8" y="183.3" class="tt">E. Total sugar</text>
<text x="23.8" y="196.4" class="st">R<tspan font-size="4.6" dx="0.5" dy="-2.3">2</tspan><tspan dy="2.3"> = 0.327 , p = 0.18 , Model = L</tspan></text>
<line x1="209.6" y1="262.2" x2="209.6" y2="270.9" stroke="#000000" stroke-width="1.1"/>
<circle cx="209.6" cy="266.8" r="2.45" fill="#000000"/>
<line x1="213.7" y1="253" x2="213.7" y2="259" stroke="#000000" stroke-width="1.1"/>
<circle cx="213.7" cy="256" r="2.45" fill="#000000"/>
<line x1="215.75" y1="208.1" x2="215.75" y2="249.6" stroke="#000000" stroke-width="1.1"/>
<circle cx="215.75" cy="229.1" r="2.45" fill="#000000"/>
<line x1="217.8" y1="271.6" x2="217.8" y2="287.8" stroke="#0a900a" stroke-width="1.1"/>
<circle cx="217.8" cy="279.8" r="2.45" fill="#0a900a"/>
<line x1="221.9" y1="253.9" x2="221.9" y2="262.2" stroke="#000000" stroke-width="1.1"/>
<circle cx="221.9" cy="257.6" r="2.45" fill="#000000"/>
<line x1="226" y1="223.1" x2="226" y2="245.8" stroke="#0a900a" stroke-width="1.1"/>
<circle cx="226" cy="234.6" r="2.45" fill="#0a900a"/>
<line x1="230.1" y1="231.3" x2="230.1" y2="254.7" stroke="#000000" stroke-width="1.1"/>
<circle cx="230.1" cy="243.1" r="2.45" fill="#000000"/>
<line x1="238.3" y1="242.1" x2="238.3" y2="257.2" stroke="#000000" stroke-width="1.1"/>
<circle cx="238.3" cy="249.7" r="2.45" fill="#000000"/>
<line x1="246.5" y1="228" x2="246.5" y2="241.4" stroke="#0a900a" stroke-width="1.1"/>
<circle cx="246.5" cy="234.8" r="2.45" fill="#0a900a"/>
<line x1="254.7" y1="244.1" x2="254.7" y2="279.5" stroke="#000000" stroke-width="1.1"/>
<circle cx="254.7" cy="261.7" r="2.45" fill="#000000"/>
<line x1="271.1" y1="224.4" x2="271.1" y2="256.8" stroke="#000000" stroke-width="1.1"/>
<circle cx="271.1" cy="239.9" r="2.45" fill="#000000"/>
<line x1="287.5" y1="233.5" x2="287.5" y2="244.9" stroke="#0a900a" stroke-width="1.1"/>
<circle cx="287.5" cy="239.1" r="2.45" fill="#0a900a"/>
<line x1="328.5" y1="264.6" x2="328.5" y2="286.7" stroke="#000000" stroke-width="1.1"/>
<circle cx="328.5" cy="275.8" r="2.45" fill="#000000"/>
<path d="M209.7,242.54 L211.21,242.84 L212.71,243 L214.22,243.04 L215.73,242.95 L217.23,242.76 L218.74,242.47 L220.24,242.08 L221.75,241.61 L223.26,241.06 L224.76,240.45 L226.27,239.77 L227.78,239.05 L229.28,238.29 L230.79,237.49 L232.29,236.67 L233.8,235.83 L235.31,234.99 L236.81,234.15 L238.32,233.31 L239.83,232.5 L241.33,231.71 L242.84,230.95 L244.35,230.22 L245.85,229.52 L247.36,228.85 L248.86,228.23 L250.37,227.65 L251.88,227.11 L253.38,226.61 L254.89,226.17 L256.4,225.79 L257.9,225.47 L259.41,225.22 L260.92,225.03 L262.42,224.93 L263.93,224.91 L265.43,224.97 L266.94,225.11 L268.45,225.32 L269.95,225.6 L271.46,225.95 L272.97,226.35 L274.47,226.81 L275.98,227.31 L277.48,227.85 L278.99,228.43 L280.5,229.04 L282,229.68 L283.51,230.33 L285.02,231 L286.52,231.68 L288.03,232.36 L289.54,233.04 L291.04,233.71 L292.55,234.37 L294.05,235.01 L295.56,235.62 L297.07,236.21 L298.57,236.76 L300.08,237.28 L301.59,237.76 L303.09,238.21 L304.6,238.63 L306.11,239.01 L307.61,239.36 L309.12,239.69 L310.62,239.98 L312.13,240.25 L313.64,240.49 L315.14,240.7 L316.65,240.89 L318.16,241.06 L319.66,241.2 L321.17,241.32 L322.67,241.42 L324.18,241.5 L325.69,241.56 L327.19,241.6 L328.7,241.63 L328.7,304.98 L327.19,302.55 L325.69,300.2 L324.18,297.94 L322.67,295.76 L321.17,293.66 L319.66,291.65 L318.16,289.71 L316.65,287.85 L315.14,286.06 L313.64,284.35 L312.13,282.71 L310.62,281.14 L309.12,279.64 L307.61,278.21 L306.11,276.83 L304.6,275.52 L303.09,274.28 L301.59,273.09 L300.08,271.96 L298.57,270.88 L297.07,269.86 L295.56,268.89 L294.05,267.97 L292.55,267.1 L291.04,266.27 L289.54,265.49 L288.03,264.75 L286.52,264.05 L285.02,263.4 L283.51,262.78 L282,262.19 L280.5,261.64 L278.99,261.13 L277.48,260.64 L275.98,260.18 L274.47,259.75 L272.97,259.34 L271.46,258.96 L269.95,258.6 L268.45,258.26 L266.94,257.93 L265.43,257.63 L263.93,257.34 L262.42,257.07 L260.92,256.82 L259.41,256.59 L257.9,256.39 L256.4,256.21 L254.89,256.06 L253.38,255.93 L251.88,255.84 L250.37,255.78 L248.86,255.75 L247.36,255.76 L245.85,255.8 L244.35,255.88 L242.84,256 L241.33,256.16 L239.83,256.37 L238.32,256.61 L236.81,256.91 L235.31,257.25 L233.8,257.64 L232.29,258.08 L230.79,258.58 L229.28,259.14 L227.78,259.78 L226.27,260.5 L224.76,261.3 L223.26,262.2 L221.75,263.2 L220.24,264.3 L218.74,265.52 L217.23,266.86 L215.73,268.33 L214.22,269.94 L212.71,271.68 L211.21,273.58 L209.7,275.63 Z" fill="#999999" fill-opacity="0.4"/>
<path d="M209.7,258.34 L211.21,257.31 L212.71,256.32 L214.22,255.35 L215.73,254.42 L217.23,253.52 L218.74,252.65 L220.24,251.81 L221.75,251.01 L223.26,250.24 L224.76,249.5 L226.27,248.79 L227.78,248.11 L229.28,247.46 L230.79,246.85 L232.29,246.26 L233.8,245.71 L235.31,245.19 L236.81,244.71 L238.32,244.25 L239.83,243.83 L241.33,243.43 L242.84,243.07 L244.35,242.75 L245.85,242.45 L247.36,242.18 L248.86,241.95 L250.37,241.75 L251.88,241.58 L253.38,241.44 L254.89,241.33 L256.4,241.26 L257.9,241.21 L259.41,241.2 L260.92,241.22 L262.42,241.28 L263.93,241.36 L265.43,241.48 L266.94,241.62 L268.45,241.8 L269.95,242.01 L271.46,242.26 L272.97,242.53 L274.47,242.84 L275.98,243.17 L277.48,243.54 L278.99,243.95 L280.5,244.38 L282,244.84 L283.51,245.34 L285.02,245.87 L286.52,246.43 L288.03,247.02 L289.54,247.64 L291.04,248.3 L292.55,248.99 L294.05,249.7 L295.56,250.45 L297.07,251.24 L298.57,252.05 L300.08,252.9 L301.59,253.77 L303.09,254.68 L304.6,255.62 L306.11,256.6 L307.61,257.6 L309.12,258.64 L310.62,259.71 L312.13,260.81 L313.64,261.94 L315.14,263.1 L316.65,264.3 L318.16,265.52 L319.66,266.78 L321.17,268.07 L322.67,269.39 L324.18,270.75 L325.69,272.13 L327.19,273.55 L328.7,275" fill="none" stroke="#0000ff" stroke-width="1.8" stroke-linecap="butt"/>
<path d="M203.5,203.3 L203.5,310.9 L334.8,310.9" fill="none" stroke="#111" stroke-width="1.3" stroke-linecap="butt" stroke-linejoin="miter"/>
<line x1="200.7" y1="206.6" x2="203.5" y2="206.6" stroke="#333" stroke-width="1.2"/>
<text x="198.5" y="209.75" text-anchor="end" class="tk">1.5</text>
<line x1="200.7" y1="223.8" x2="203.5" y2="223.8" stroke="#333" stroke-width="1.2"/>
<text x="198.5" y="226.95" text-anchor="end" class="tk">1.0</text>
<line x1="200.7" y1="241.1" x2="203.5" y2="241.1" stroke="#333" stroke-width="1.2"/>
<text x="198.5" y="244.25" text-anchor="end" class="tk">0.5</text>
<line x1="200.7" y1="258.3" x2="203.5" y2="258.3" stroke="#333" stroke-width="1.2"/>
<text x="198.5" y="261.45" text-anchor="end" class="tk">0.0</text>
<line x1="200.7" y1="275.5" x2="203.5" y2="275.5" stroke="#333" stroke-width="1.2"/>
<text x="198.5" y="278.65" text-anchor="end" class="tk">-0.5</text>
<line x1="200.7" y1="292.7" x2="203.5" y2="292.7" stroke="#333" stroke-width="1.2"/>
<text x="198.5" y="295.85" text-anchor="end" class="tk">-1.0</text>
<line x1="200.7" y1="309.9" x2="203.5" y2="309.9" stroke="#333" stroke-width="1.2"/>
<text x="198.5" y="313.05" text-anchor="end" class="tk">-1.5</text>
<line x1="205.5" y1="310.9" x2="205.5" y2="313.7" stroke="#333" stroke-width="1.2"/>
<text x="205.5" y="322" text-anchor="middle" class="tk">0</text>
<line x1="246.5" y1="310.9" x2="246.5" y2="313.7" stroke="#333" stroke-width="1.2"/>
<text x="246.5" y="322" text-anchor="middle" class="tk">500</text>
<line x1="287.5" y1="310.9" x2="287.5" y2="313.7" stroke="#333" stroke-width="1.2"/>
<text x="287.5" y="322" text-anchor="middle" class="tk">1000</text>
<line x1="328.5" y1="310.9" x2="328.5" y2="313.7" stroke="#333" stroke-width="1.2"/>
<text x="328.5" y="322" text-anchor="middle" class="tk">1500</text>
<text x="269.15" y="335" text-anchor="middle" class="xl">Dosage Recorded (μM)</text>
<text transform="translate(180.3,257.5) rotate(-90)" text-anchor="middle" class="xl">g</text>
<text x="203.9" y="183.3" class="tt">F. Total soluble solids</text>
<text x="203.9" y="196.4" class="st">R<tspan font-size="4.6" dx="0.5" dy="-2.3">2</tspan><tspan dy="2.3"> = 0.297 , p = 0.674 , Model = Q</tspan></text>
<line x1="376.11" y1="281.2" x2="376.11" y2="296.2" stroke="#0a900a" stroke-width="1.1"/>
<circle cx="376.11" cy="288.5" r="2.45" fill="#0a900a"/>
<line x1="382.71" y1="272" x2="382.71" y2="279" stroke="#000000" stroke-width="1.1"/>
<circle cx="382.71" cy="275.6" r="2.45" fill="#000000"/>
<line x1="389.31" y1="282.1" x2="389.31" y2="297.4" stroke="#0a900a" stroke-width="1.1"/>
<circle cx="389.31" cy="289.7" r="2.45" fill="#0a900a"/>
<line x1="395.92" y1="239.7" x2="395.92" y2="270.3" stroke="#000000" stroke-width="1.1"/>
<circle cx="395.92" cy="255" r="2.45" fill="#000000"/>
<line x1="501.6" y1="251.3" x2="501.6" y2="264" stroke="#000000" stroke-width="1.1"/>
<circle cx="501.6" cy="257.4" r="2.45" fill="#000000"/>
<path d="M376.11,253.58 L377.69,253.69 L379.28,253.79 L380.87,253.87 L382.46,253.94 L384.05,253.99 L385.64,254.02 L387.22,254.04 L388.81,254.04 L390.4,254.01 L391.99,253.97 L393.58,253.91 L395.17,253.83 L396.76,253.73 L398.34,253.6 L399.93,253.46 L401.52,253.28 L403.11,253.09 L404.7,252.87 L406.29,252.63 L407.88,252.36 L409.46,252.07 L411.05,251.75 L412.64,251.41 L414.23,251.05 L415.82,250.66 L417.41,250.24 L419,249.81 L420.58,249.35 L422.17,248.87 L423.76,248.36 L425.35,247.84 L426.94,247.29 L428.53,246.72 L430.12,246.14 L431.7,245.53 L433.29,244.91 L434.88,244.27 L436.47,243.62 L438.06,242.94 L439.65,242.26 L441.24,241.56 L442.82,240.84 L444.41,240.11 L446,239.37 L447.59,238.62 L449.18,237.85 L450.77,237.08 L452.36,236.29 L453.94,235.5 L455.53,234.69 L457.12,233.88 L458.71,233.06 L460.3,232.23 L461.89,231.39 L463.47,230.55 L465.06,229.7 L466.65,228.84 L468.24,227.97 L469.83,227.1 L471.42,226.23 L473.01,225.35 L474.59,224.46 L476.18,223.57 L477.77,222.68 L479.36,221.78 L480.95,220.87 L482.54,219.96 L484.13,219.05 L485.71,218.14 L487.3,217.22 L488.89,216.3 L490.48,215.37 L492.07,214.44 L493.66,213.51 L495.25,212.58 L496.83,211.64 L498.42,210.7 L500.01,209.76 L501.6,208.81 L501.6,303.19 L500.01,302.84 L498.42,302.5 L496.83,302.16 L495.25,301.82 L493.66,301.49 L492.07,301.16 L490.48,300.83 L488.89,300.5 L487.3,300.18 L485.71,299.86 L484.13,299.55 L482.54,299.24 L480.95,298.93 L479.36,298.62 L477.77,298.32 L476.18,298.03 L474.59,297.74 L473.01,297.45 L471.42,297.17 L469.83,296.9 L468.24,296.63 L466.65,296.36 L465.06,296.1 L463.47,295.85 L461.89,295.61 L460.3,295.37 L458.71,295.14 L457.12,294.92 L455.53,294.71 L453.94,294.5 L452.36,294.31 L450.77,294.12 L449.18,293.95 L447.59,293.78 L446,293.63 L444.41,293.49 L442.82,293.36 L441.24,293.24 L439.65,293.14 L438.06,293.06 L436.47,292.98 L434.88,292.93 L433.29,292.89 L431.7,292.87 L430.12,292.86 L428.53,292.88 L426.94,292.91 L425.35,292.96 L423.76,293.04 L422.17,293.13 L420.58,293.25 L419,293.39 L417.41,293.56 L415.82,293.74 L414.23,293.95 L412.64,294.19 L411.05,294.45 L409.46,294.73 L407.88,295.04 L406.29,295.37 L404.7,295.73 L403.11,296.11 L401.52,296.52 L399.93,296.94 L398.34,297.4 L396.76,297.87 L395.17,298.37 L393.58,298.89 L391.99,299.43 L390.4,299.99 L388.81,300.56 L387.22,301.16 L385.64,301.78 L384.05,302.41 L382.46,303.06 L380.87,303.73 L379.28,304.41 L377.69,305.11 L376.11,305.82 Z" fill="#999999" fill-opacity="0.4"/>
<path d="M376.11,279.7 L377.69,279.4 L379.28,279.1 L380.87,278.8 L382.46,278.5 L384.05,278.2 L385.64,277.9 L387.22,277.6 L388.81,277.3 L390.4,277 L391.99,276.7 L393.58,276.4 L395.17,276.1 L396.76,275.8 L398.34,275.5 L399.93,275.2 L401.52,274.9 L403.11,274.6 L404.7,274.3 L406.29,274 L407.88,273.7 L409.46,273.4 L411.05,273.1 L412.64,272.8 L414.23,272.5 L415.82,272.2 L417.41,271.9 L419,271.6 L420.58,271.3 L422.17,271 L423.76,270.7 L425.35,270.4 L426.94,270.1 L428.53,269.8 L430.12,269.5 L431.7,269.2 L433.29,268.9 L434.88,268.6 L436.47,268.3 L438.06,268 L439.65,267.7 L441.24,267.4 L442.82,267.1 L444.41,266.8 L446,266.5 L447.59,266.2 L449.18,265.9 L450.77,265.6 L452.36,265.3 L453.94,265 L455.53,264.7 L457.12,264.4 L458.71,264.1 L460.3,263.8 L461.89,263.5 L463.47,263.2 L465.06,262.9 L466.65,262.6 L468.24,262.3 L469.83,262 L471.42,261.7 L473.01,261.4 L474.59,261.1 L476.18,260.8 L477.77,260.5 L479.36,260.2 L480.95,259.9 L482.54,259.6 L484.13,259.3 L485.71,259 L487.3,258.7 L488.89,258.4 L490.48,258.1 L492.07,257.8 L493.66,257.5 L495.25,257.2 L496.83,256.9 L498.42,256.6 L500.01,256.3 L501.6,256" fill="none" stroke="#0000ff" stroke-width="1.8" stroke-linecap="butt"/>
<path d="M370.2,203.4 L370.2,310.9 L507.6,310.9" fill="none" stroke="#111" stroke-width="1.3" stroke-linecap="butt" stroke-linejoin="miter"/>
<line x1="367.4" y1="234.7" x2="370.2" y2="234.7" stroke="#333" stroke-width="1.2"/>
<text x="365.2" y="237.85" text-anchor="end" class="tk">1</text>
<line x1="367.4" y1="268.9" x2="370.2" y2="268.9" stroke="#333" stroke-width="1.2"/>
<text x="365.2" y="272.05" text-anchor="end" class="tk">0</text>
<line x1="367.4" y1="303.1" x2="370.2" y2="303.1" stroke="#333" stroke-width="1.2"/>
<text x="365.2" y="306.25" text-anchor="end" class="tk">-1</text>
<line x1="402.52" y1="310.9" x2="402.52" y2="313.7" stroke="#333" stroke-width="1.2"/>
<text x="402.52" y="322" text-anchor="middle" class="tk">250</text>
<line x1="435.55" y1="310.9" x2="435.55" y2="313.7" stroke="#333" stroke-width="1.2"/>
<text x="435.55" y="322" text-anchor="middle" class="tk">500</text>
<line x1="468.57" y1="310.9" x2="468.57" y2="313.7" stroke="#333" stroke-width="1.2"/>
<text x="468.57" y="322" text-anchor="middle" class="tk">750</text>
<line x1="501.6" y1="310.9" x2="501.6" y2="313.7" stroke="#333" stroke-width="1.2"/>
<text x="501.6" y="322" text-anchor="middle" class="tk">1000</text>
<text x="438.9" y="335" text-anchor="middle" class="xl">Dosage Recorded (μM)</text>
<text transform="translate(352.6,257.55) rotate(-90)" text-anchor="middle" class="xl">g</text>
<text x="370.4" y="183.3" class="tt">G. TSS/TA</text>
<text x="369.7" y="196.4" class="st">R<tspan font-size="4.6" dx="0.5" dy="-2.3">2</tspan><tspan dy="2.3"> = 0.373 , p = 0.274 , Model = L</tspan></text>
<line x1="555.96" y1="246.3" x2="555.96" y2="276.2" stroke="#0a900a" stroke-width="1.1"/>
<circle cx="555.96" cy="261.2" r="2.45" fill="#0a900a"/>
<line x1="565.14" y1="224.1" x2="565.14" y2="257.2" stroke="#000000" stroke-width="1.1"/>
<circle cx="565.14" cy="240.6" r="2.45" fill="#000000"/>
<line x1="577.38" y1="236" x2="577.38" y2="253.9" stroke="#0a900a" stroke-width="1.1"/>
<circle cx="577.38" cy="244.8" r="2.45" fill="#0a900a"/>
<line x1="675.3" y1="244.9" x2="675.3" y2="271.6" stroke="#0a900a" stroke-width="1.1"/>
<circle cx="675.3" cy="258.6" r="2.45" fill="#0a900a"/>
<path d="M555.96,217.49 L557.47,218.07 L558.98,218.64 L560.49,219.19 L562,219.73 L563.51,220.25 L565.02,220.76 L566.53,221.26 L568.05,221.74 L569.56,222.2 L571.07,222.64 L572.58,223.07 L574.09,223.47 L575.6,223.86 L577.11,224.22 L578.62,224.57 L580.13,224.89 L581.64,225.19 L583.15,225.47 L584.66,225.73 L586.17,225.96 L587.68,226.17 L589.19,226.35 L590.7,226.51 L592.22,226.65 L593.73,226.76 L595.24,226.85 L596.75,226.91 L598.26,226.95 L599.77,226.96 L601.28,226.95 L602.79,226.91 L604.3,226.85 L605.81,226.77 L607.32,226.67 L608.83,226.54 L610.34,226.4 L611.85,226.23 L613.36,226.04 L614.87,225.84 L616.39,225.61 L617.9,225.37 L619.41,225.11 L620.92,224.83 L622.43,224.54 L623.94,224.23 L625.45,223.9 L626.96,223.56 L628.47,223.21 L629.98,222.85 L631.49,222.47 L633,222.08 L634.51,221.68 L636.02,221.27 L637.53,220.85 L639.04,220.42 L640.56,219.98 L642.07,219.53 L643.58,219.08 L645.09,218.61 L646.6,218.14 L648.11,217.66 L649.62,217.17 L651.13,216.68 L652.64,216.18 L654.15,215.67 L655.66,215.16 L657.17,214.64 L658.68,214.12 L660.19,213.59 L661.7,213.06 L663.21,212.52 L664.73,211.98 L666.24,211.43 L667.75,210.88 L669.26,210.33 L670.77,209.77 L672.28,209.21 L673.79,208.64 L675.3,208.07 L675.3,305.93 L673.79,305.15 L672.28,304.38 L670.77,303.61 L669.26,302.84 L667.75,302.08 L666.24,301.32 L664.73,300.57 L663.21,299.82 L661.7,299.07 L660.19,298.33 L658.68,297.6 L657.17,296.87 L655.66,296.14 L654.15,295.42 L652.64,294.71 L651.13,294 L649.62,293.3 L648.11,292.6 L646.6,291.92 L645.09,291.24 L643.58,290.56 L642.07,289.9 L640.56,289.24 L639.04,288.59 L637.53,287.96 L636.02,287.33 L634.51,286.71 L633,286.1 L631.49,285.51 L629.98,284.92 L628.47,284.35 L626.96,283.79 L625.45,283.25 L623.94,282.72 L622.43,282.2 L620.92,281.7 L619.41,281.21 L617.9,280.74 L616.39,280.29 L614.87,279.86 L613.36,279.45 L611.85,279.05 L610.34,278.68 L608.83,278.32 L607.32,277.99 L605.81,277.68 L604.3,277.39 L602.79,277.12 L601.28,276.88 L599.77,276.66 L598.26,276.47 L596.75,276.3 L595.24,276.15 L593.73,276.03 L592.22,275.93 L590.7,275.86 L589.19,275.81 L587.68,275.79 L586.17,275.79 L584.66,275.81 L583.15,275.86 L581.64,275.93 L580.13,276.03 L578.62,276.14 L577.11,276.28 L575.6,276.44 L574.09,276.62 L572.58,276.82 L571.07,277.04 L569.56,277.27 L568.05,277.52 L566.53,277.79 L565.02,278.08 L563.51,278.38 L562,278.7 L560.49,279.03 L558.98,279.38 L557.47,279.74 L555.96,280.11 Z" fill="#999999" fill-opacity="0.4"/>
<path d="M555.96,248.8 L557.47,248.9 L558.98,249.01 L560.49,249.11 L562,249.22 L563.51,249.32 L565.02,249.42 L566.53,249.53 L568.05,249.63 L569.56,249.73 L571.07,249.84 L572.58,249.94 L574.09,250.05 L575.6,250.15 L577.11,250.25 L578.62,250.36 L580.13,250.46 L581.64,250.56 L583.15,250.67 L584.66,250.77 L586.17,250.88 L587.68,250.98 L589.19,251.08 L590.7,251.19 L592.22,251.29 L593.73,251.39 L595.24,251.5 L596.75,251.6 L598.26,251.71 L599.77,251.81 L601.28,251.91 L602.79,252.02 L604.3,252.12 L605.81,252.23 L607.32,252.33 L608.83,252.43 L610.34,252.54 L611.85,252.64 L613.36,252.74 L614.87,252.85 L616.39,252.95 L617.9,253.06 L619.41,253.16 L620.92,253.26 L622.43,253.37 L623.94,253.47 L625.45,253.57 L626.96,253.68 L628.47,253.78 L629.98,253.89 L631.49,253.99 L633,254.09 L634.51,254.2 L636.02,254.3 L637.53,254.41 L639.04,254.51 L640.56,254.61 L642.07,254.72 L643.58,254.82 L645.09,254.92 L646.6,255.03 L648.11,255.13 L649.62,255.24 L651.13,255.34 L652.64,255.44 L654.15,255.55 L655.66,255.65 L657.17,255.75 L658.68,255.86 L660.19,255.96 L661.7,256.07 L663.21,256.17 L664.73,256.27 L666.24,256.38 L667.75,256.48 L669.26,256.58 L670.77,256.69 L672.28,256.79 L673.79,256.9 L675.3,257" fill="none" stroke="#ff0000" stroke-width="1.8" stroke-linecap="butt"/>
<path d="M550.3,203.3 L550.3,310.9 L681,310.9" fill="none" stroke="#111" stroke-width="1.3" stroke-linecap="butt" stroke-linejoin="miter"/>
<line x1="547.5" y1="208.6" x2="550.3" y2="208.6" stroke="#333" stroke-width="1.2"/>
<text x="545.3" y="211.75" text-anchor="end" class="tk">0.0</text>
<line x1="547.5" y1="230.1" x2="550.3" y2="230.1" stroke="#333" stroke-width="1.2"/>
<text x="545.3" y="233.25" text-anchor="end" class="tk">-0.5</text>
<line x1="547.5" y1="251.7" x2="550.3" y2="251.7" stroke="#333" stroke-width="1.2"/>
<text x="545.3" y="254.85" text-anchor="end" class="tk">-1.0</text>
<line x1="547.5" y1="273.3" x2="550.3" y2="273.3" stroke="#333" stroke-width="1.2"/>
<text x="545.3" y="276.45" text-anchor="end" class="tk">-1.5</text>
<line x1="547.5" y1="294.9" x2="550.3" y2="294.9" stroke="#333" stroke-width="1.2"/>
<text x="545.3" y="298.05" text-anchor="end" class="tk">-2.0</text>
<line x1="552.9" y1="310.9" x2="552.9" y2="313.7" stroke="#333" stroke-width="1.2"/>
<text x="552.9" y="322" text-anchor="middle" class="tk">0</text>
<line x1="583.5" y1="310.9" x2="583.5" y2="313.7" stroke="#333" stroke-width="1.2"/>
<text x="583.5" y="322" text-anchor="middle" class="tk">250</text>
<line x1="614.1" y1="310.9" x2="614.1" y2="313.7" stroke="#333" stroke-width="1.2"/>
<text x="614.1" y="322" text-anchor="middle" class="tk">500</text>
<line x1="644.7" y1="310.9" x2="644.7" y2="313.7" stroke="#333" stroke-width="1.2"/>
<text x="644.7" y="322" text-anchor="middle" class="tk">750</text>
<line x1="675.3" y1="310.9" x2="675.3" y2="313.7" stroke="#333" stroke-width="1.2"/>
<text x="675.3" y="322" text-anchor="middle" class="tk">1000</text>
<text x="615.65" y="335" text-anchor="middle" class="xl">Dosage Recorded (μM)</text>
<text transform="translate(526.5,257.5) rotate(-90)" text-anchor="middle" class="xl">g</text>
<text x="550.5" y="183.3" class="tt">H. WSP</text>
<text x="549.9" y="196.4" class="st">R<tspan font-size="4.6" dx="0.5" dy="-2.3">2</tspan><tspan dy="2.3"> = 0.14 , p = 0.626 , Model = L</tspan></text>
</svg>
</body></html>
